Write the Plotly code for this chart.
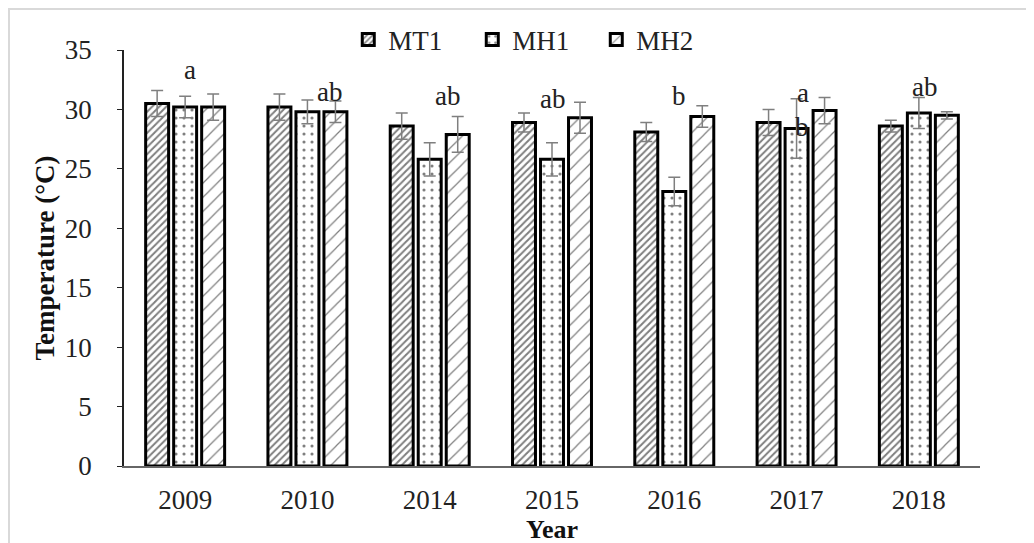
import plotly.graph_objects as go

years = ["2009", "2010", "2014", "2015", "2016", "2017", "2018"]
mt1 = [30.5, 30.2, 28.6, 28.9, 28.1, 28.9, 28.6]
mt1_err = [1.1, 1.1, 1.1, 0.8, 0.8, 1.1, 0.5]
mh1 = [30.2, 29.8, 25.8, 25.8, 23.1, 28.4, 29.7]
mh1_err = [0.9, 1.0, 1.4, 1.4, 1.2, 2.5, 1.3]
mh2 = [30.2, 29.8, 27.9, 29.3, 29.4, 29.9, 29.5]
mh2_err = [1.1, 0.9, 1.5, 1.3, 0.9, 1.1, 0.3]

letters = ["a", "ab", "ab", "ab", "b", "a", "ab", "b"]
letter_years = ["2009", "2010", "2014", "2015", "2016", "2017", "2018", "2017"]
letter_y = [33.3, 31.5, 31.1, 30.9, 31.1, 31.4, 31.9, 28.5]
letter_dx = [5, 22, 18, 0, 5, 6, 6, 5]

FONT = "Liberation Serif"

series = [
    ("MT1", mt1, mt1_err, dict(shape="/", size=5, solidity=0.4, fgcolor="black", bgcolor="white")),
    ("MH1", mh1, mh1_err, dict(shape=".", size=8, solidity=0.12, fgcolor="black", bgcolor="white")),
    ("MH2", mh2, mh2_err, dict(shape="/", size=10, solidity=0.12, fgcolor="black", bgcolor="white")),
]

fig = go.Figure()
for name, vals, errs, pat in series:
    fig.add_trace(go.Bar(
        name=name, x=years, y=vals,
        marker=dict(color="white", line=dict(color="black", width=3), pattern=pat),
        error_y=dict(type="data", array=errs, visible=True, color="#7f7f7f", thickness=1.5, width=6),
    ))

for t, yr, yv, dx in zip(letters, letter_years, letter_y, letter_dx):
    fig.add_annotation(x=years.index(yr), y=yv, text=t, showarrow=False, xshift=dx,
                       font=dict(family=FONT, size=27, color="#222"))

# page body has an 8px offset, so the plot area is placed at 116..972 x 42..458 in figure px
fig.add_shape(type="rect", xref="paper", yref="paper",
              x0=(1 - 116) / 856, x1=(1045 - 116) / 856,
              y0=(458 - 560) / 416, y1=(458 - 1) / 416,
              line=dict(color="#d9d9d9", width=2), fillcolor="rgba(0,0,0,0)", layer="below")

fig.update_layout(
    width=1034, height=543,
    margin=dict(l=116, r=62, t=42, b=85, autoexpand=False),
    paper_bgcolor="white", plot_bgcolor="white",
    barmode="group", bargap=0.313, bargroupgap=0.18,
    font=dict(family=FONT, size=27, color="#222"),
    showlegend=True,
    legend=dict(orientation="h", x=0.262, xanchor="left", y=1.024, yanchor="middle",
                font=dict(family=FONT, size=27, color="#222"), itemwidth=30,
                entrywidth=79, entrywidthmode="pixels",
                bgcolor="rgba(0,0,0,0)", traceorder="normal"),
    xaxis=dict(type="category", showline=True, linecolor="#666", linewidth=2, ticks="",
               tickfont=dict(family=FONT, size=27, color="#222"), ticklabelstandoff=9,
               title=dict(text="<b>Year</b>", font=dict(family=FONT, size=26, color="#111"), standoff=2)),
    yaxis=dict(range=[0, 35], dtick=5, showline=True, linecolor="#222", linewidth=1.5,
               ticks="outside", ticklen=5, tickcolor="#222", showgrid=False, zeroline=False,
               tickfont=dict(family=FONT, size=27, color="#222"), ticklabelstandoff=20,
               title=dict(text="<b>Temperature (°C)</b>", font=dict(family=FONT, size=27, color="#111"), standoff=2)),
)

fig.write_html("out.html")
